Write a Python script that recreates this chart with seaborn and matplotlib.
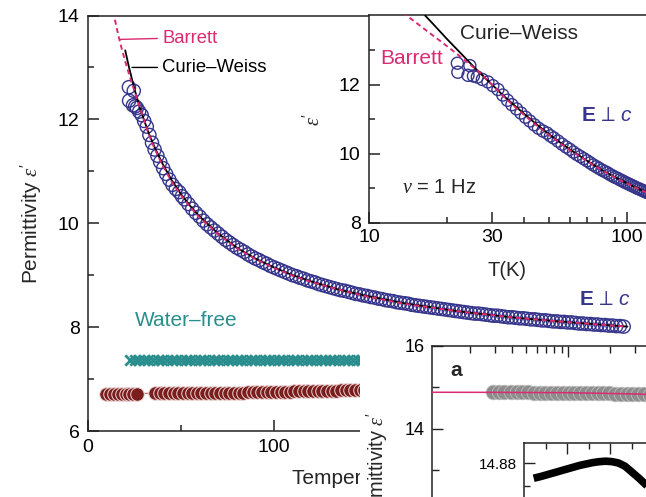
import numpy as np
import pandas as pd
import matplotlib
matplotlib.use("Agg")
import matplotlib.pyplot as plt
import seaborn as sns
from matplotlib.patches import Rectangle
from matplotlib.ticker import FixedLocator, NullFormatter, FixedFormatter, LogLocator

# ---------------- data ----------------
perp_T = [22.0, 22.1, 24.2, 24.6, 25.4, 26.3, 27.5, 28.9, 30.2, 31.6, 33.0, 34.4, 35.8, 37.3,
          38.8, 40.4, 42.0, 43.7, 45.4, 47.2, 49.0, 50.5,
          52, 54, 56, 58, 60, 62, 64, 66, 68, 70, 72, 74, 76, 78, 80, 82, 84, 86, 88, 90,
          92, 94, 96, 98, 100, 102, 104, 106, 108, 110, 112, 114, 116, 118, 120, 122, 124,
          126, 128, 130, 132, 134, 136, 138, 140, 142, 144, 146, 148, 150,
          152, 154, 156, 158, 160, 162, 164, 166, 168, 170, 172, 174, 176, 178, 180, 182,
          184, 186, 188, 190, 192, 194, 196, 198, 200, 202, 204, 206, 208, 210, 212, 214,
          216, 218, 220, 222, 224, 226, 228, 230, 232, 234, 236, 238, 240, 242, 244, 246,
          248, 250, 252, 254, 256, 258, 260, 262, 264, 266, 268, 270, 272, 274, 276, 278,
          280, 282, 284, 286, 288]
perp_eps = [12.62, 12.36, 12.27, 12.55, 12.25, 12.22, 12.15, 12.08, 11.97, 11.86, 11.70, 11.55,
            11.42, 11.30, 11.18, 11.06, 10.95, 10.84, 10.74, 10.66, 10.60, 10.52,
            10.46, 10.37, 10.28, 10.20, 10.13, 10.05, 9.98, 9.92, 9.86, 9.80, 9.74, 9.68,
            9.63, 9.58, 9.53, 9.49, 9.45, 9.40, 9.36, 9.32,
            9.29, 9.25, 9.22, 9.18, 9.15, 9.12, 9.09, 9.06, 9.03, 9.00, 8.98, 8.95, 8.93,
            8.90, 8.88, 8.86, 8.83,
            8.81, 8.79, 8.77, 8.75, 8.73, 8.71, 8.70, 8.68, 8.66, 8.64, 8.63, 8.61, 8.60,
            8.58, 8.57, 8.55, 8.54, 8.52, 8.51, 8.50, 8.48, 8.47, 8.46, 8.45, 8.43, 8.42,
            8.41, 8.40, 8.39,
            8.38, 8.37, 8.36, 8.35, 8.34, 8.33, 8.32, 8.31, 8.30, 8.29, 8.28, 8.27, 8.26,
            8.26, 8.25, 8.24,
            8.23, 8.22, 8.22, 8.21, 8.20, 8.19, 8.19, 8.18, 8.17, 8.17, 8.16, 8.15, 8.15,
            8.14, 8.13, 8.13,
            8.12, 8.11, 8.11, 8.10, 8.10, 8.09, 8.09, 8.08, 8.07, 8.07, 8.06, 8.06, 8.05,
            8.05, 8.04, 8.04,
            8.03, 8.03, 8.02, 8.02, 8.01]

cw_T = [16.5, 18, 20, 22, 25, 28, 30, 33, 36, 40, 45, 50, 55, 60, 70, 80, 90, 100, 110, 120,
        135, 150, 170, 200, 230, 260, 290]
cw_eps = [14.0, 13.70, 13.33, 13.01, 12.58, 12.21, 12.0, 11.70, 11.45, 11.15, 10.83, 10.56,
          10.33, 10.13, 9.80, 9.53, 9.32, 9.15, 9.00, 8.88, 8.72, 8.60, 8.46, 8.30, 8.18,
          8.09, 8.01]

barrett_T = [13.5, 14, 15, 16, 17, 18, 19, 20, 22, 24, 26, 28, 30, 33, 36, 40, 45, 50, 55,
             60, 70, 80, 90, 100, 110, 120, 135, 150, 170, 200, 230, 260, 290]
barrett_eps = [14.08, 14.0, 13.83, 13.67, 13.52, 13.38, 13.25, 13.12, 12.88, 12.65, 12.44,
               12.22, 12.0, 11.68, 11.42, 11.12, 10.80, 10.54, 10.31, 10.11, 9.79, 9.52,
               9.31, 9.14, 8.99, 8.87, 8.72, 8.59, 8.45, 8.30, 8.18, 8.09, 8.01]

teal_T = [22.5, 25, 27.5, 30, 32.5, 35, 37.5, 40, 42.5, 45, 47.5, 50, 52.5,
          55, 57.5, 60, 62.5, 65, 67.5, 70, 72.5, 75, 77.5, 80, 82.5, 85,
          87.5, 90, 92.5, 95, 97.5, 100, 102.5, 105, 107.5, 110, 112.5, 115, 117.5,
          120, 122.5, 125, 127.5, 130, 132.5, 135, 137.5, 140, 142.5, 145, 147.5, 150]
teal_eps = [7.37, 7.37, 7.37, 7.37, 7.37, 7.37, 7.37, 7.37, 7.37, 7.37, 7.37, 7.37, 7.37,
            7.37, 7.37, 7.37, 7.37, 7.37, 7.37, 7.37, 7.37, 7.37, 7.37, 7.37, 7.37, 7.37,
            7.37, 7.37, 7.37, 7.37, 7.37, 7.37, 7.37, 7.37, 7.37, 7.37, 7.37, 7.37, 7.37,
            7.37, 7.37, 7.37, 7.37, 7.37, 7.37, 7.37, 7.37, 7.37, 7.37, 7.37, 7.37, 7.37]

red_T = [9.7, 11.8, 13.9, 16.0, 18.1, 20.2, 22.3, 24.4, 26.4,
         36, 38.5, 41, 43.5, 46, 48.5, 51, 53.5, 56, 58.5,
         61, 63.5, 66, 68.5, 71, 73.5, 76, 78.5, 81, 83.5,
         86, 88.5, 91, 93.5, 96, 98.5, 101, 103.5, 106, 108.5,
         111, 113.5, 116, 118.5, 121, 123.5, 126, 128.5, 131, 133.5,
         136, 138.5, 141, 143.5, 146, 148.5, 151]
red_eps = [6.72, 6.72, 6.72, 6.72, 6.72, 6.72, 6.72, 6.72, 6.72,
           6.73, 6.73, 6.73, 6.73, 6.73, 6.73, 6.73, 6.73, 6.73, 6.73,
           6.74, 6.74, 6.74, 6.74, 6.74, 6.74, 6.74, 6.74, 6.74, 6.74,
           6.75, 6.75, 6.75, 6.75, 6.75, 6.76, 6.76, 6.76, 6.76, 6.76,
           6.77, 6.77, 6.77, 6.77, 6.77, 6.77, 6.77, 6.77, 6.77, 6.77,
           6.78, 6.78, 6.78, 6.78, 6.78, 6.78, 6.78]

# panel a (partly visible)
gray_x = [2.9, 3.2, 3.5, 3.9, 4.3, 4.7, 5.2, 5.7, 6.3, 6.9, 7.6, 8.4, 9.2, 10.1, 11.1, 12.2,
          13.4, 14.8, 16.3, 17.9, 19.7, 21.7, 23.9, 26.3, 28.9, 31.8, 35.0, 38.5, 42.3, 46.5]
gray_eps = [14.883, 14.883, 14.882, 14.882, 14.881, 14.881, 14.880, 14.879, 14.878, 14.877,
            14.876, 14.875, 14.874, 14.873, 14.871, 14.869, 14.867, 14.865, 14.862, 14.859,
            14.856, 14.853, 14.850, 14.847, 14.844, 14.840, 14.836, 14.831, 14.826, 14.820]
afit_x = [1.07, 3, 10, 30, 90]
afit_eps = [14.885, 14.883, 14.875, 14.845, 14.78]

# inner panel of a
b_x = [0.45, 0.8, 1.1, 1.4, 1.7, 2.0, 2.3, 2.6, 2.9, 3.2, 3.5, 3.8, 4.1, 4.4, 4.7, 5.0,
       5.3, 5.6, 5.9, 6.2]
b_eps = [14.8767, 14.8771, 14.8775, 14.8779, 14.8783, 14.8787, 14.8791, 14.8795, 14.8798,
         14.8801, 14.8803, 14.8804, 14.8803, 14.8800, 14.8793, 14.8781, 14.8769, 14.8756,
         14.8742, 14.8728]

# ---------------- style ----------------
sns.set_style("ticks")
plt.rcParams["font.family"] = ["Liberation Sans", "DejaVu Sans"]
plt.rcParams["mathtext.fontset"] = "custom"
plt.rcParams["mathtext.rm"] = "Liberation Sans"
plt.rcParams["mathtext.it"] = "Liberation Serif:italic"
plt.rcParams["mathtext.bf"] = "Liberation Sans:bold"
plt.rcParams["mathtext.sf"] = "Liberation Sans:italic"

PINK = "#d92a72"
NAVY = "#35358c"
TEAL = "#2b8e8e"
RED = "#7a1d1d"
SPINE = "#222222"
EPERP = r"$\mathbf{E}\,\perp\,\mathsf{c}$"

W, H = 646.0, 497.0


def box(x0, y0, x1, y1):
    return [x0 / W, 1 - y1 / H, (x1 - x0) / W, (y1 - y0) / H]


def style_axes(a, lw=1.1):
    for s in a.spines.values():
        s.set_linewidth(lw)
        s.set_color(SPINE)
    a.set_facecolor("white")


def open_circles(a, x, y, s, color, lw=1.1, z=2):
    sns.scatterplot(x=x, y=y, ax=a, s=s, color=color, zorder=z)
    coll = a.collections[-1]
    coll.set_facecolor("none")
    coll.set_edgecolor(color)
    coll.set_linewidth(lw)


fig = plt.figure(figsize=(6.46, 4.97), dpi=100)

# ---------------- main axes ----------------
ax = fig.add_axes(box(88, 15.5, 646, 431))
style_axes(ax)
ax.spines["right"].set_visible(False)

red_df = pd.DataFrame({"T": red_T, "eps": red_eps})
sns.lineplot(data=red_df, x="T", y="eps", ax=ax, color="#c86a6a", linewidth=0.8,
             estimator=None, sort=False, zorder=1)
sns.scatterplot(data=red_df, x="T", y="eps", ax=ax, s=95, color=RED,
                edgecolor="#ecd4d4", linewidth=0.7, zorder=2)
sns.scatterplot(x=teal_T, y=teal_eps, ax=ax, s=55, marker="x", color=TEAL,
                linewidth=2.0, zorder=2)

open_circles(ax, perp_T, perp_eps, 90, NAVY, lw=1.0)

cw_df = pd.DataFrame({"T": cw_T, "eps": cw_eps})
cw_main = cw_df[cw_df["T"] >= 20]
sns.lineplot(data=cw_main, x="T", y="eps", ax=ax, color="black", linewidth=1.3,
             estimator=None, sort=False)
ax.lines[-1].set_zorder(4)
sns.lineplot(x=barrett_T, y=barrett_eps, ax=ax, color=PINK, linewidth=1.4,
             linestyle=(0, (2.6, 1.8)), estimator=None, sort=False)
ax.lines[-1].set_zorder(5)

ax.set_xlim(0, 300)
ax.set_ylim(6, 14)
ax.xaxis.set_major_locator(FixedLocator([0, 100, 200, 300]))
ax.xaxis.set_minor_locator(FixedLocator([50, 150, 250]))
ax.yaxis.set_major_locator(FixedLocator([6, 8, 10, 12, 14]))
ax.yaxis.set_minor_locator(FixedLocator([7, 9, 11, 13]))
ax.tick_params(which="both", direction="in", colors=SPINE, width=1.1, labelsize=14,
               pad=6, top=False, right=False, labelcolor="black")
ax.tick_params(which="major", length=8)
ax.tick_params(which="minor", length=4.5)
ax.set_xlabel("Temperature (K)", fontsize=15, labelpad=9)
ax.set_ylabel(r"Permittivity $\varepsilon'$", fontsize=15, labelpad=10)

ax.annotate("Barrett", xy=(17.2, 13.54), xytext=(39.8, 13.56), color=PINK, fontsize=13.3,
            va="center", ha="left",
            arrowprops=dict(arrowstyle="-", color=PINK, lw=1.0, relpos=(0, 0.5),
                            shrinkA=1, shrinkB=0))
ax.annotate("Curie–Weiss", xy=(23.7, 13.0), xytext=(39.8, 13.0), color="black",
            fontsize=13.3, va="center", ha="left",
            arrowprops=dict(arrowstyle="-", color="black", lw=1.0, relpos=(0, 0.5),
                            shrinkA=1, shrinkB=0))
ax.text(25.3, 8.13, "Water–free", color=TEAL, fontsize=15, va="center", ha="left")
ax.text(264.0, 8.54, EPERP, color=NAVY, fontsize=15, va="center", ha="left")

# ---------------- inset (log T) ----------------
ins = fig.add_axes(box(369, 15.5, 646, 223))
ins.set_zorder(1)
style_axes(ins)
ins.spines["right"].set_visible(False)
ins.set_xscale("log")
open_circles(ins, perp_T, perp_eps, 75, NAVY, lw=1.0)
sns.lineplot(data=cw_df, x="T", y="eps", ax=ins, color="black", linewidth=1.3,
             estimator=None, sort=False)
ins.lines[-1].set_zorder(4)
sns.lineplot(x=barrett_T, y=barrett_eps, ax=ins, color=PINK, linewidth=1.4,
             linestyle=(0, (2.6, 1.8)), estimator=None, sort=False)
ins.lines[-1].set_zorder(5)
ins.set_xlim(10, 118.5)
ins.set_ylim(8, 14)
ins.xaxis.set_major_locator(FixedLocator([10, 30, 100]))
ins.xaxis.set_major_formatter(FixedFormatter(["10", "30", "100"]))
ins.xaxis.set_minor_locator(FixedLocator([20, 40, 50, 60, 70, 80, 90]))
ins.xaxis.set_minor_formatter(NullFormatter())
ins.yaxis.set_major_locator(FixedLocator([8, 10, 12]))
ins.yaxis.set_minor_locator(FixedLocator([9, 11, 13]))
ins.tick_params(which="both", direction="in", colors=SPINE, width=1.1, labelsize=14,
                labelcolor="black", top=False, right=False)
ins.tick_params(axis="x", which="both", pad=4)
ins.tick_params(axis="y", which="both", pad=6)
ins.tick_params(which="major", length=8)
ins.tick_params(which="minor", length=4.5)
ins.set_xlabel("T(K)", fontsize=14.5, labelpad=11)
ins.set_ylabel(r"$\varepsilon'$", fontsize=14.5, labelpad=11)
ins.text(22.5, 13.47, "Curie–Weiss", fontsize=15, va="center", ha="left")
ins.text(11.03, 12.75, "Barrett", color=PINK, fontsize=15, va="center", ha="left")
ins.text(66.5, 11.12, EPERP, color=NAVY, fontsize=15, va="center", ha="left")
ins.text(13.4, 9.04, r"$\nu$ = 1 Hz", fontsize=14.5, va="center", ha="left")

# ---------------- overlapping panel a ----------------
fig.add_artist(Rectangle((360 / W, 0), 1 - 360 / W, (497 - 338) / H,
                         transform=fig.transFigure, facecolor="white",
                         edgecolor="none", zorder=2))

axa = fig.add_axes(box(432, 346, 700, 595))
axa.set_zorder(3)
style_axes(axa)
axa.set_xscale("log")
sns.scatterplot(x=gray_x, y=gray_eps, ax=axa, s=110, color="#8d8d8d",
                edgecolor="#bdbdbd", linewidth=0.6, zorder=2)
sns.lineplot(x=afit_x, y=afit_eps, ax=axa, color=PINK, linewidth=1.1,
             estimator=None, sort=False)
axa.lines[-1].set_zorder(4)
axa.set_xlim(1.07, 87.7)
axa.set_ylim(10, 16)
axa.xaxis.set_major_locator(LogLocator(base=10))
axa.xaxis.set_minor_locator(LogLocator(base=10, subs=np.arange(2, 10)))
axa.xaxis.set_minor_formatter(NullFormatter())
axa.yaxis.set_major_locator(FixedLocator([10, 12, 14, 16]))
axa.yaxis.set_minor_locator(FixedLocator([11, 13, 15]))
axa.tick_params(which="both", direction="in", colors=SPINE, width=1.0, labelsize=13,
                labelcolor="black", top=True, right=True, pad=5)
axa.tick_params(which="major", length=8)
axa.tick_params(which="minor", length=5)
axa.set_xlabel("")
axa.set_ylabel(r"Permittivity $\varepsilon'$", fontsize=14.5)
axa.yaxis.set_label_coords(-(432 - 390) / 268.0, 0.5)
axa.text(1.44, 15.42, "a", fontsize=15, fontweight="bold", va="center", ha="left")

axb = fig.add_axes(box(524, 443, 704, 563))
axb.set_zorder(4)
style_axes(axb)
sns.lineplot(x=b_x, y=b_eps, ax=axb, color="black", linewidth=5.5,
             estimator=None, sort=False)
axb.lines[-1].set_solid_capstyle("butt")
axb.set_xlim(0, 8.37)
axb.set_ylim(14.8583, 14.88435)
axb.xaxis.set_major_locator(FixedLocator([2, 4, 6, 8]))
axb.xaxis.set_minor_locator(FixedLocator([1, 3, 5, 7]))
axb.yaxis.set_major_locator(FixedLocator([14.86, 14.87, 14.88]))
axb.yaxis.set_major_formatter(FixedFormatter(["14.86", "14.87", "14.88"]))
axb.yaxis.set_minor_locator(FixedLocator([14.865, 14.875]))
axb.tick_params(which="both", direction="in", colors=SPINE, width=1.0, labelsize=11,
                labelcolor="black", top=True, right=True, pad=5)
axb.tick_params(which="major", length=8)
axb.tick_params(which="minor", length=4.5)
axb.set_xlabel("")
axb.set_ylabel("")

fig.savefig("out.png", dpi=100)
